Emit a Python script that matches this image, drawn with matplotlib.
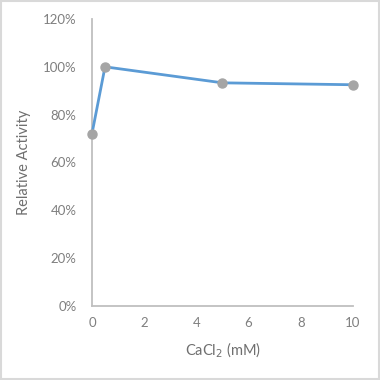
import matplotlib
matplotlib.use("Agg")
import matplotlib.pyplot as plt
from matplotlib.ticker import FuncFormatter

cacl2_mm = [0, 0.5, 5, 10]
relative_activity = [0.72, 1.00, 0.933, 0.925]

x_ticks = [0, 2, 4, 6, 8, 10]
y_ticks = [0, 0.2, 0.4, 0.6, 0.8, 1.0, 1.2]

plt.rcParams['font.family'] = ['Lato', 'DejaVu Sans']

fig = plt.figure(figsize=(3.8, 3.8), dpi=100)
ax = fig.add_axes([0.242, 0.195, 0.687, 0.755])

ax.plot(cacl2_mm, relative_activity, color='#5B9BD5', linewidth=2,
        marker='o', markersize=6.5, markerfacecolor='#A5A5A5',
        markeredgecolor='#A5A5A5', zorder=3, clip_on=False)

ax.set_xlim(0, 10)
ax.set_ylim(0, 1.2)
ax.set_xticks(x_ticks)
ax.set_yticks(y_ticks)
ax.yaxis.set_major_formatter(FuncFormatter(lambda v, p: f"{v*100:.0f}%"))

for s in ['top', 'right']:
    ax.spines[s].set_visible(False)
for s in ['left', 'bottom']:
    ax.spines[s].set_color('#BFBFBF')
    ax.spines[s].set_linewidth(1.3)

ax.tick_params(length=0, labelsize=9.5, colors='#7F7F7F')
ax.tick_params(axis='y', pad=11)
ax.tick_params(axis='x', pad=8)
ax.set_xlabel('CaCl$_2$ (mM)', fontsize=10.5, color='#6F6F6F', labelpad=8)
ax.set_ylabel('Relative Activity', fontsize=10.5, color='#6F6F6F', labelpad=9)

border = plt.Rectangle((0.003, 0.003), 0.994, 0.994, transform=fig.transFigure,
                       fill=False, edgecolor='#D9D9D9', linewidth=1.5)
fig.patches.append(border)

fig.savefig('out.png', dpi=100)
